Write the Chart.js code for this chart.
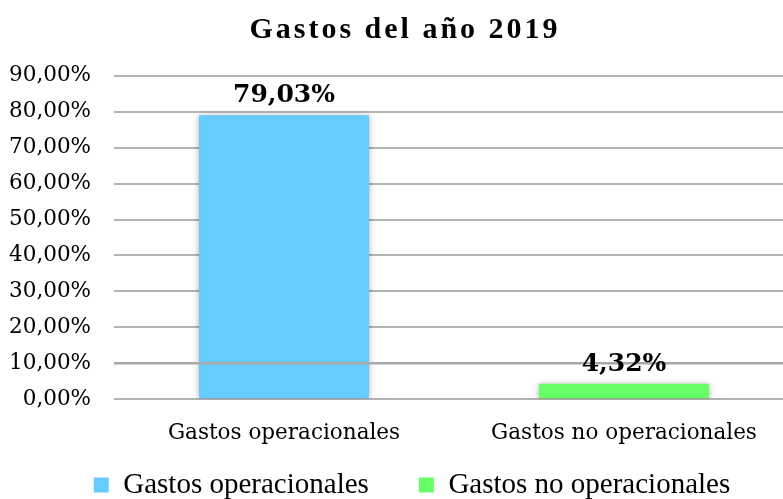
<!DOCTYPE html>
<html>
<head>
<meta charset="utf-8">
<script src="https://cdn.jsdelivr.net/npm/chart.js@4.4.1/dist/chart.umd.min.js"></script>
<style>
  html, body { margin: 0; padding: 0; background: #ffffff; overflow: hidden; }
  #wrap { width: 800px; height: 499px; position: relative; }
</style>
</head>
<body>
<div id="wrap"><canvas id="c"></canvas></div>
<script>
const titleText = 'Gastos del año 2019';
const categories = ['Gastos operacionales', 'Gastos no operacionales'];
const seriesNames = ['Gastos operacionales', 'Gastos no operacionales'];
const seriesValues = [79.03, 4.32];
const seriesColors = ['#66CCFF', '#66FF66'];
const yTickValues = [0, 10, 20, 30, 40, 50, 60, 70, 80, 90];
const yTickLabels = ['0,00%', '10,00%', '20,00%', '30,00%', '40,00%', '50,00%', '60,00%', '70,00%', '80,00%', '90,00%'];
const dataLabels = ['79,03%', '4,32%'];

const datasets = seriesNames.map((name, i) => ({
  label: name,
  data: categories.map((c, j) => (j === i ? seriesValues[i] : null)),
  backgroundColor: seriesColors[i],
  borderWidth: 0,
  skipNull: true,
  categoryPercentage: 0.5,
  barPercentage: 1.0
}));

const LEGEND_GAP = 50;     // horizontal gap between legend items
const LEGEND_VPAD = 10;    // vertical padding used for the legend box

const extras = {
  id: 'extras',
  afterInit(chart) {
    const lg = chart.legend;
    if (lg && !lg._patched) {
      const origFit = lg.fit;
      lg.fit = function () {
        origFit.call(this);
        this.height = this.height - LEGEND_GAP + LEGEND_VPAD;
      };
      const origDraw = lg._draw;
      lg._draw = function () {
        const ctx = this.ctx;
        ctx.save();
        ctx.translate(15, -(LEGEND_GAP - LEGEND_VPAD));
        origDraw.call(this);
        ctx.restore();
      };
      lg._patched = true;
    }
  },
  beforeDraw(chart) {
    const tb = chart.titleBlock;
    if (tb && !tb._patched) {
      const orig = tb.draw;
      tb.draw = function (area) {
        const ctx = this.ctx;
        ctx.save();
        ctx.letterSpacing = '3px';
        ctx.translate(8, 0);
        orig.call(this, area);
        ctx.restore();
      };
      tb._patched = true;
    }
  },
  beforeDatasetsDraw(chart) {
    const ctx = chart.ctx;
    ctx.save();
    ctx.shadowColor = 'rgba(0,0,0,0.35)';
    ctx.shadowBlur = 6;
    ctx.shadowOffsetX = 0;
    ctx.shadowOffsetY = 1;
  },
  afterDatasetsDraw(chart) {
    const ctx = chart.ctx;
    ctx.restore();
    const area = chart.chartArea;
    const y = chart.scales.y;
    // gridline at 10% drawn over the bars, as in the reference
    const yy = y.getPixelForValue(yTickValues[1]);
    ctx.save();
    ctx.strokeStyle = '#a8a8a8';
    ctx.lineWidth = 2.5;
    ctx.beginPath();
    ctx.moveTo(area.left, yy);
    ctx.lineTo(area.right + 10, yy);
    ctx.stroke();
    ctx.restore();
    // value labels
    ctx.save();
    ctx.font = 'bold 25px "DejaVu Serif"';
    ctx.fillStyle = '#000';
    ctx.textAlign = 'center';
    ctx.textBaseline = 'alphabetic';
    chart.data.datasets.forEach((ds, i) => {
      const meta = chart.getDatasetMeta(i);
      meta.data.forEach((bar, j) => {
        if (ds.data[j] == null) return;
        ctx.fillText(dataLabels[i], bar.x, bar.y - 13);
      });
    });
    ctx.restore();
  }
};

new Chart(document.getElementById('c'), {
  type: 'bar',
  data: { labels: categories, datasets },
  options: {
    responsive: true,
    maintainAspectRatio: false,
    animation: false,
    layout: { padding: { left: 0, right: 6, top: 0, bottom: -10.5 } },
    plugins: {
      title: {
        display: true,
        text: titleText,
        color: '#000',
        font: { family: 'Liberation Serif', size: 30, weight: 'bold' },
        padding: { top: 12, bottom: 27.8 }
      },
      legend: {
        display: true,
        position: 'bottom',
        labels: {
          color: '#000',
          font: { family: 'Liberation Serif', size: 29 },
          boxWidth: 15,
          boxHeight: 15,
          padding: LEGEND_GAP
        }
      },
      tooltip: { enabled: false }
    },
    scales: {
      x: {
        grid: { display: false, drawTicks: false },
        border: { display: false },
        ticks: {
          color: '#000',
          font: { family: 'DejaVu Serif', size: 21.5 },
          padding: 21,
          maxRotation: 0
        },
        afterFit(s) { s.height = 61.3; }
      },
      y: {
        min: 0,
        max: 90,
        grid: { color: '#b4b4b4', lineWidth: 2, drawTicks: false },
        border: { display: false },
        ticks: {
          stepSize: 10,
          color: '#000',
          font: { family: 'DejaVu Serif', size: 21.5 },
          padding: 23,
          callback: (v) => yTickLabels[yTickValues.indexOf(v)]
        },
        afterFit(s) { s.width = 114; }
      }
    }
  },
  plugins: [extras]
});
</script>
</body>
</html>
